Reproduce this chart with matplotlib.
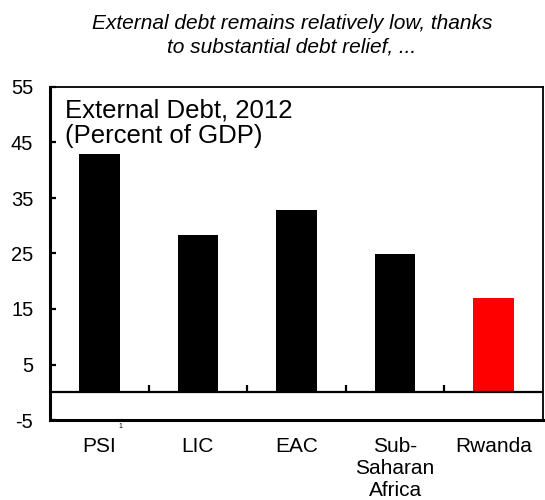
import numpy as np
import matplotlib.pyplot as plt

plt.rcParams['font.family'] = ['Liberation Sans', 'DejaVu Sans']
plt.rcParams['axes.unicode_minus'] = False

categories = ['PSI', 'LIC', 'EAC', 'Sub-\nSaharan\nAfrica', 'Rwanda']
debt = [43.0, 28.3, 32.8, 24.9, 17.0]
colors = ['black', 'black', 'black', 'black', 'red']
yticks = [-5, 5, 15, 25, 35, 45, 55]

fig = plt.figure(figsize=(5.45, 5.0), dpi=100)
ax = fig.add_axes([50 / 545, 80 / 500, 493 / 545, 333 / 500])

x = np.arange(len(categories))
ax.bar(x, debt, width=0.41, color=colors, zorder=2)
ax.axhline(0, color='black', linewidth=1.6, zorder=3)
# small separators between categories, standing on the zero line
ax.vlines(x[:-1] + 0.5, 0, 1.3, color='black', linewidth=1.6, zorder=3)

ax.set_xlim(-0.5, len(categories) - 0.5)
ax.set_ylim(-5, 55)
ax.set_yticks(yticks)
ax.set_xticks(x)
ax.set_xticklabels(categories, fontsize=15, linespacing=1.2)
ax.tick_params(axis='x', length=0, pad=12)
ax.tick_params(axis='y', direction='in', length=4, width=1.6, pad=12, labelsize=14.5)

for side in ['left', 'bottom']:
    ax.spines[side].set_linewidth(2.2)
for side in ['top', 'right']:
    ax.spines[side].set_linewidth(1.3)

ax.text(15 / 493, 1 - 12 / 333, 'External Debt, 2012\n(Percent of GDP)', transform=ax.transAxes,
        fontsize=18.5, va='top', ha='left', linespacing=1.05)
ax.text(120 / 545, 1 - 426 / 500, '1', transform=fig.transFigure, fontsize=5,
        ha='center', va='center')

fig.text(292 / 545, 1 - 14 / 500,
         'External debt remains relatively low, thanks\nto substantial debt relief, ...',
         fontsize=15, style='italic', ha='center', va='top', linespacing=1.3)

fig.savefig('out.png', dpi=100)
